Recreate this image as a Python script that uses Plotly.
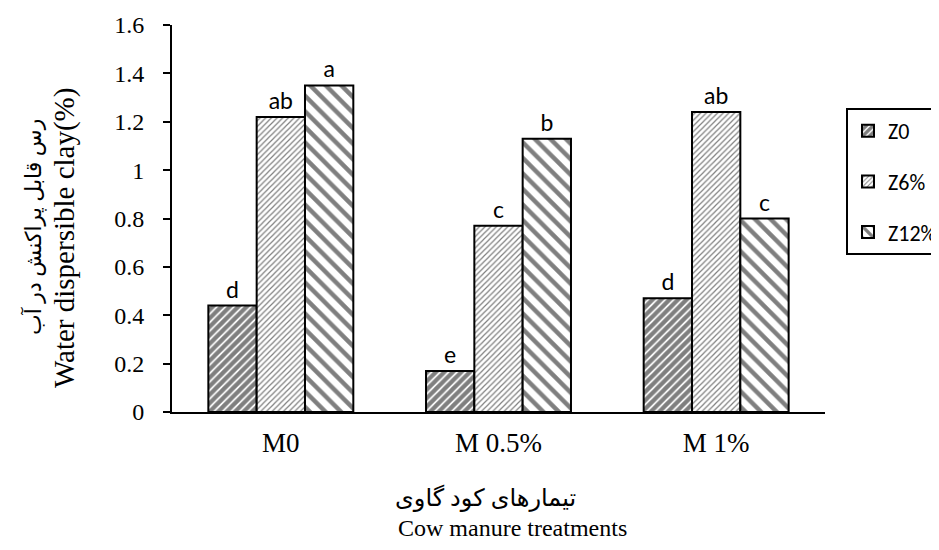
import plotly.graph_objects as go

categories = ["M0", "M 0.5%", "M 1%"]
series_names = ["Z0", "Z6%", "Z12%"]
z0 = [0.44, 0.17, 0.47]
z6 = [1.22, 0.77, 1.24]
z12 = [1.35, 1.13, 0.80]
z0_letters = ["d", "e", "d"]
z6_letters = ["ab", "c", "ab"]
z12_letters = ["a", "b", "c"]
y_ticks = [0, 0.2, 0.4, 0.6, 0.8, 1, 1.2, 1.4, 1.6]

patterns = [
    dict(shape="/", fgcolor="black", bgcolor="white", size=6, solidity=0.7),
    dict(shape="/", fgcolor="black", bgcolor="white", size=4, solidity=0.3),
    dict(shape="\\", fgcolor="black", bgcolor="white", size=11, solidity=0.4),
]

SANS = "Lato, Noto Sans, sans-serif"
NARROW = "Carlito, Liberation Sans Narrow, Lato, sans-serif"
SERIF = "Liberation Serif, DejaVu Serif, serif"
ARAB = "Liberation Serif, DejaVu Sans, serif"

# page has an 8px body offset; plot area target (screen px): x 172..825, y 25..412
OFF = 8
X0, X1, Y0, Y1 = 172, 825, 25, 412
PW, PH = X1 - X0, Y1 - Y0


def px(x):
    return (x - X0) / PW


def py(y):
    return (Y1 - y) / PH


fig = go.Figure()
for name, vals, letters, pat in zip(series_names, [z0, z6, z12],
                                     [z0_letters, z6_letters, z12_letters], patterns):
    fig.add_trace(go.Bar(
        x=categories, y=vals, name=name, legendgroup=name,
        marker=dict(color="white", pattern=pat, line=dict(color="black", width=2)),
        text=letters, textposition="outside",
        textfont=dict(family=SANS, size=23, color="black"),
        cliponaxis=False,
    ))

fig.update_layout(
    width=939, height=550,
    margin=dict(l=X0 - OFF, r=939 - (X1 - OFF), t=Y0 - OFF, b=550 - (Y1 - OFF),
                autoexpand=False),
    paper_bgcolor="white", plot_bgcolor="white",
    barmode="group", bargap=0.334, bargroupgap=0,
    showlegend=True,
    legend=dict(
        x=px(846), y=py(108), xanchor="left", yanchor="top",
        bordercolor="black", borderwidth=2,
        font=dict(family=NARROW, size=22, color="black"),
        traceorder="grouped", tracegroupgap=19,
        itemwidth=30,
    ),
    xaxis=dict(
        showline=True, linecolor="black", linewidth=2,
        ticks="", tickfont=dict(family=SERIF, size=27, color="black"),
        ticklabelstandoff=6,
        showgrid=False,
    ),
    yaxis=dict(
        range=[0, 1.6], tickvals=y_ticks,
        ticktext=[f"{v:g}" for v in y_ticks],
        showline=True, linecolor="black", linewidth=2,
        ticks="outside", ticklen=7, tickwidth=2, tickcolor="black",
        tickfont=dict(family=SERIF, size=24, color="black"),
        ticklabelstandoff=14,
        showgrid=False, zeroline=False,
    ),
    annotations=[
        dict(text="رس قابل پراکنش در آب",
             xref="paper", yref="paper", x=px(33), y=py(227),
             xanchor="center", yanchor="middle", textangle=-90,
             showarrow=False, font=dict(family=ARAB, size=22, color="black")),
        dict(text="Water dispersible clay(%)",
             xref="paper", yref="paper", x=px(64), y=py(238),
             xanchor="center", yanchor="middle", textangle=-90,
             showarrow=False, font=dict(family=SERIF, size=29, color="black")),
        dict(text="تیمارهای کود گاوی",
             xref="paper", yref="paper", x=px(485), y=py(498),
             xanchor="center", yanchor="middle",
             showarrow=False, font=dict(family=ARAB, size=24, color="black")),
        dict(text="Cow manure treatments",
             xref="paper", yref="paper", x=px(512), y=py(528),
             xanchor="center", yanchor="middle",
             showarrow=False, font=dict(family=SERIF, size=24, color="black")),
    ],
)

fig.write_html("out.html")
